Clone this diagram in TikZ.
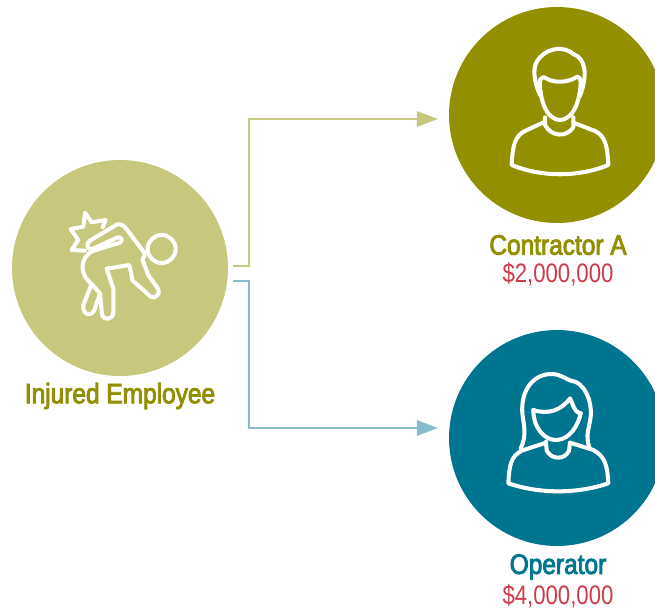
\documentclass[tikz,border=0pt]{standalone}
\usepackage{fontspec}
\usepackage{tikz}
\usetikzlibrary{arrows.meta}
\setmainfont{Liberation Sans}
\newfontfamily\narrowfont[FakeStretch=0.83]{Liberation Sans}
\newfontfamily\heavyfont[FakeStretch=0.87,FakeBold=3]{Liberation Sans}
\definecolor{paleolive}{HTML}{C8C77E}
\definecolor{olive}{HTML}{929000}
\definecolor{teal}{HTML}{00758F}
\definecolor{paleteal}{HTML}{86BCCB}
\definecolor{money}{HTML}{CC3B47}
\tikzset{
  person/.style={circle, minimum size=4.32cm, inner sep=0pt, fill=#1},
  wholabel/.style={font=\heavyfont\fontsize{16}{18}\selectfont, text=#1, inner sep=0pt},
  amount/.style={font=\narrowfont\fontsize{15.2}{17}\selectfont, text=money, inner sep=0pt},
  link/.style={line width=1.4pt, color=#1, -{Triangle[length=12pt,width=8.6pt]}},
  icon/.style={draw=white, line width=2.3pt, line cap=round, line join=round}
}
\begin{document}
\begin{tikzpicture}[x=0.02cm,y=-0.02cm]
\useasboundingbox (0,0) rectangle (655,611);
\node[person=paleolive] (employee) at (120,268) {};
\node[person=olive] (contractor) at (557,115) {};
\node[person=teal] (operator) at (557,438) {};
\node[wholabel=olive] (employeename) at (120,396) {Injured Employee};
\node[wholabel=olive] (contractorname) at (558,245) {Contractor A};
\node[amount] (contractoramount) at (558,274) {\$2,000,000};
\node[wholabel=teal] (operatorname) at (558,567) {Operator};
\node[amount] (operatoramount) at (558,596) {\$4,000,000};
\coordinate (outa) at (233,266);
\coordinate (outb) at (233,281);
\coordinate (tipa) at (438,119);
\coordinate (tipb) at (438,428);
\draw[link=paleolive] (outa) -- (249,266) -- (249,119) -- (tipa);
\draw[link=paleteal] (outb) -- (249,281) -- (249,428) -- (tipb);
% injured man
\begin{scope}[shift={(50,190)},scale=1/3]
\draw[icon] (335,177) circle (42);
\draw[icon] (158,112) -- (167,90) -- (125,97) -- (105,68) -- (100,110) -- (62,117) -- (85,150) -- (65,180) -- (105,182);
\draw[icon] (120,152) -- (200,104) .. controls (212,100) and (222,106) .. (230,118) -- (283,188) .. controls (286,196) and (282,202) .. (277,208)
  -- (295,255) -- (325,298) .. controls (332,312) and (316,328) .. (302,320) -- (248,272) -- (238,225) -- (170,236) -- (190,295) -- (190,368)
  .. controls (188,392) and (158,392) .. (156,372) -- (150,310) -- (125,282) -- (100,345) .. controls (96,378) and (128,382) .. (135,355) -- (150,310);
\draw[icon] (125,282) .. controls (90,255) and (85,205) .. (130,182) -- (210,158) .. controls (220,152) and (215,140) .. (203,142) -- (125,178) .. controls (110,178) and (108,158) .. (120,152);
\end{scope}
% man
\begin{scope}[shift={(490,30)},scale=1/3]
\draw[icon] (150,195) .. controls (130,150) and (125,105) .. (150,82) .. controls (180,50) and (225,50) .. (250,72) .. controls (285,85) and (295,130) .. (270,198);
\draw[icon] (150,150) .. controls (157,140) and (162,140) .. (170,146) .. controls (195,160) and (235,158) .. (262,140) .. controls (267,140) and (270,145) .. (272,152);
\draw[icon] (150,150) .. controls (148,200) and (165,268) .. (210,270) .. controls (255,268) and (272,200) .. (272,152);
\draw[icon] (165,262) -- (165,285) .. controls (185,322) and (230,322) .. (250,292) -- (250,262);
\draw[icon] (165,275) -- (105,303) .. controls (75,318) and (68,345) .. (65,405) .. controls (155,442) and (265,442) .. (355,405) .. controls (352,345) and (345,318) .. (315,303) -- (250,278);
\end{scope}
% woman
\begin{scope}[shift={(490,360)},scale=1/3]
\draw[icon] (92,265) .. controls (112,225) and (100,190) .. (97,160) .. controls (92,90) and (130,42) .. (185,42) .. controls (215,42) and (230,62) .. (255,65) .. controls (300,85) and (305,150) .. (302,170) .. controls (298,205) and (285,225) .. (298,262);
\draw[icon] (130,150) .. controls (175,165) and (215,150) .. (240,115) .. controls (248,125) and (248,155) .. (272,160);
\draw[icon] (130,150) .. controls (130,205) and (165,242) .. (200,240) .. controls (240,238) and (265,195) .. (272,160);
\draw[icon] (168,245) -- (170,272) .. controls (185,300) and (225,300) .. (237,272) -- (240,248);
\draw[icon] (168,248) -- (95,272) .. controls (62,290) and (58,315) .. (55,370) .. controls (150,402) and (260,402) .. (355,370) .. controls (352,315) and (345,290) .. (310,270) -- (240,248);
\end{scope}
\end{tikzpicture}
\end{document}
